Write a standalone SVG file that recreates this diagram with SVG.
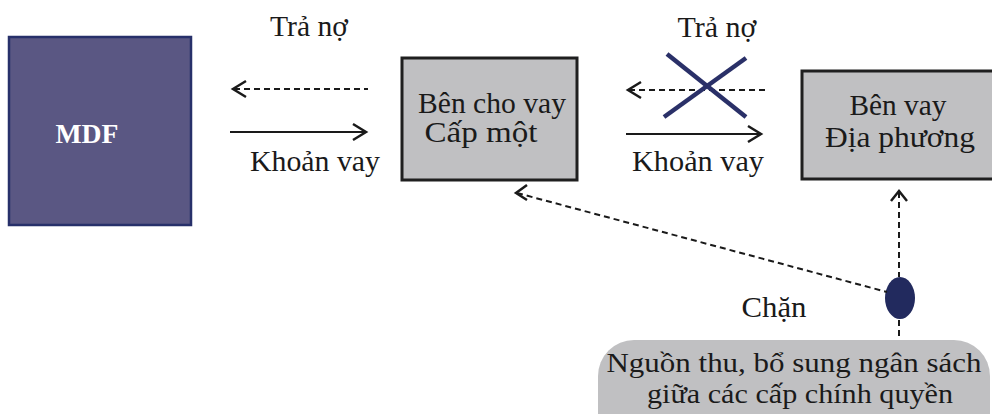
<svg xmlns="http://www.w3.org/2000/svg" width="992" height="414" viewBox="0 0 992 414">
<defs>
<style>
.t{font-family:"Liberation Serif","DejaVu Serif",serif;font-size:29px;fill:#1a1a1a;text-anchor:middle}
.b{font-size:28px}
.box{fill:#c0c0c2;stroke:#1f1f1f;stroke-width:3}
.ln{stroke:#1a1a1a;stroke-width:2;fill:none}
.dash{stroke-dasharray:6,4}
.hd{stroke:#1a1a1a;stroke-width:2.5;fill:none}
</style>
</defs>
<rect width="992" height="414" fill="#ffffff"/>
<g id="mdf">
<rect x="9" y="37" width="182" height="188" fill="#5a5783" stroke="#27306a" stroke-width="2.5"/>
<text x="87" y="143" textLength="63" lengthAdjust="spacingAndGlyphs" style="font-family:'Liberation Serif',serif;font-size:27px;font-weight:bold;fill:#ffffff;text-anchor:middle">MDF</text>
</g>
<g id="lender">
<rect class="box" x="402" y="58" width="175" height="122"/>
<text class="t" x="492" y="113" textLength="148" lengthAdjust="spacingAndGlyphs">Bên cho vay</text>
<text class="t" x="481" y="142" textLength="113" lengthAdjust="spacingAndGlyphs">Cấp một</text>
</g>
<g id="borrower">
<rect class="box" x="802" y="71" width="194" height="108"/>
<text class="t" x="898" y="115" textLength="97" lengthAdjust="spacingAndGlyphs">Bên vay</text>
<text class="t" x="900" y="147" textLength="150" lengthAdjust="spacingAndGlyphs">Địa phương</text>
</g>
<g id="source">
<rect x="598" y="340" width="392" height="110" rx="36" fill="#c0c0c2"/>
<text class="t b" x="794" y="372" textLength="375" lengthAdjust="spacingAndGlyphs">Nguồn thu, bổ sung ngân sách</text>
<text class="t b" x="800" y="403" textLength="306" lengthAdjust="spacingAndGlyphs">giữa các cấp chính quyền</text>
</g>
<g id="intercept">
<ellipse cx="900" cy="298" rx="15" ry="21" fill="#222a5e"/>
</g>
<g id="connectors">
<line class="ln dash" x1="234" y1="89" x2="368" y2="89"/>
<polyline class="hd" points="246,81 233,89 246,97"/>
<line class="ln" x1="230" y1="132" x2="366" y2="132"/>
<polyline class="hd" points="353,124 366,132 353,140"/>
<line class="ln dash" x1="629" y1="90" x2="765" y2="90"/>
<polyline class="hd" points="641,82 628,90 641,98"/>
<line class="ln" x1="626" y1="134" x2="761" y2="134"/>
<polyline class="hd" points="748,126 761,134 748,142"/>
<line class="ln dash" x1="517" y1="193" x2="887" y2="292"/>
<polyline class="hd" points="527,185 516,193 527,200"/>
<line class="ln dash" x1="899" y1="192" x2="899" y2="277"/>
<line class="ln dash" x1="899" y1="320" x2="899" y2="340"/>
<polyline class="hd" points="891,201 899,191 907,201"/>
<line x1="667" y1="54" x2="746" y2="117" stroke="#2a3068" stroke-width="4.5"/>
<line x1="746" y1="58" x2="664" y2="117" stroke="#2a3068" stroke-width="4.5"/>
</g>
<g id="labels">
<text class="t" x="309" y="36" textLength="78" lengthAdjust="spacingAndGlyphs">Trả nợ</text>
<text class="t" x="315" y="171" textLength="130" lengthAdjust="spacingAndGlyphs">Khoản vay</text>
<text class="t" x="717" y="37" textLength="79" lengthAdjust="spacingAndGlyphs">Trả nợ</text>
<text class="t" x="698" y="171" textLength="132" lengthAdjust="spacingAndGlyphs">Khoản vay</text>
<text class="t" x="774" y="317" textLength="65" lengthAdjust="spacingAndGlyphs">Chặn</text>
</g>
</svg>
